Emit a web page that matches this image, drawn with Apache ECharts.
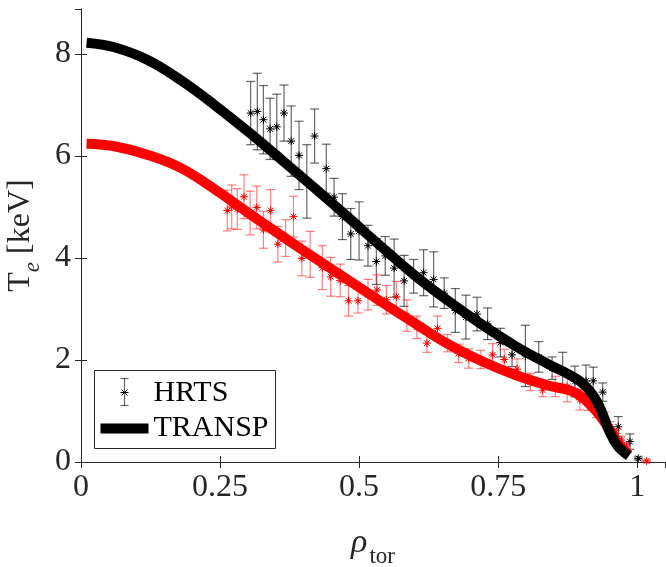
<!DOCTYPE html>
<html>
<head>
<meta charset="utf-8">
<script src="https://cdn.jsdelivr.net/npm/echarts@6/dist/echarts.min.js"></script>
<style>
  html, body { margin: 0; padding: 0; background: #fff; }
  #chart { width: 666px; height: 567px; }
</style>
</head>
<body>
<div id="chart"></div>
<script>
// Electron temperature profiles: HRTS measurements with error bars and TRANSP fits.

// TRANSP profiles (shared radial grid)
const rhoTransp = [0.01, 0.06, 0.12, 0.18, 0.24, 0.30, 0.36, 0.42, 0.48, 0.54, 0.60, 0.66, 0.72,
  0.78, 0.84, 0.88, 0.90, 0.92, 0.935, 0.95, 0.965, 0.985];
const teTranspBlack = [8.22, 8.13, 7.88, 7.48, 7.00, 6.48, 5.93, 5.37, 4.80, 4.22, 3.66, 3.16, 2.70,
  2.28, 1.92, 1.70, 1.56, 1.32, 1.02, 0.60, 0.31, 0.12];
const teTranspRed = [6.24, 6.19, 6.02, 5.76, 5.35, 4.89, 4.44, 4.00, 3.57, 3.14, 2.72, 2.31, 1.98,
  1.71, 1.50, 1.40, 1.28, 1.07, 0.88, 0.64, 0.38, 0.14];

// HRTS measurements, black set
const rhoHrtsBlack = [0.305, 0.317, 0.328, 0.340, 0.352, 0.365, 0.378, 0.392, 0.406, 0.420, 0.441,
  0.455, 0.470, 0.485, 0.500, 0.516, 0.531, 0.547, 0.563, 0.581, 0.598, 0.616, 0.634, 0.653,
  0.673, 0.692, 0.712, 0.731, 0.754, 0.775, 0.799, 0.823, 0.847, 0.866, 0.888, 0.908, 0.921,
  0.938, 0.966, 0.987, 1.002];
const teHrtsBlack = [6.84, 6.87, 6.71, 6.53, 6.57, 6.84, 6.29, 6.01, 5.50, 6.39, 5.75,
  5.19, 4.81, 4.47, 4.53, 4.24, 3.93, 4.04, 3.80, 3.55, 3.64, 3.71, 3.58, 3.31,
  2.97, 2.84, 2.90, 2.71, 2.34, 2.10, 2.08, 2.06, 1.84, 1.80, 1.58, 1.59, 1.59,
  1.37, 0.69, 0.40, 0.07];
const errHrtsBlack = [0.62, 0.75, 0.67, 0.60, 0.64, 0.55, 0.69, 0.67, 0.72, 0.53, 0.48,
  0.37, 0.45, 0.50, 0.57, 0.40, 0.45, 0.38, 0.57, 0.50, 0.33, 0.45, 0.54, 0.30,
  0.43, 0.43, 0.33, 0.31, 0.28, 0.23, 0.60, 0.30, 0.22, 0.35, 0.30, 0.31, 0.27,
  0.18, 0.20, 0.15, 0.03];

// HRTS measurements, red set
const rhoHrtsRed = [0.263, 0.271, 0.281, 0.293, 0.304, 0.316, 0.328, 0.341, 0.354, 0.368, 0.382,
  0.397, 0.412, 0.434, 0.449, 0.466, 0.481, 0.498, 0.516, 0.532, 0.549, 0.567, 0.586, 0.604,
  0.622, 0.641, 0.659, 0.679, 0.697, 0.719, 0.740, 0.761, 0.784, 0.808, 0.830, 0.853, 0.874,
  0.897, 0.912, 0.927, 0.942, 0.951, 0.963, 0.972, 0.981, 1.017];
const teHrtsRed = [4.93, 5.00, 4.96, 5.20, 4.88, 4.99, 4.55, 4.93, 4.27, 4.39, 4.81,
  3.99, 4.07, 3.81, 3.63, 3.56, 3.16, 3.16, 3.28, 3.37, 3.18, 3.24, 2.87, 2.64,
  2.33, 2.62, 2.33, 2.13, 2.03, 2.01, 2.10, 2.01, 1.82, 1.57, 1.41, 1.48, 1.48,
  1.22, 1.16, 0.99, 0.86, 0.69, 0.56, 0.43, 0.30, 0.02];
const errHrtsRed = [0.40, 0.43, 0.40, 0.43, 0.43, 0.42, 0.36, 0.41, 0.35, 0.36, 0.40,
  0.34, 0.45, 0.43, 0.38, 0.32, 0.30, 0.24, 0.30, 0.30, 0.28, 0.30, 0.31, 0.22,
  0.18, 0.24, 0.17, 0.18, 0.19, 0.18, 0.22, 0.20, 0.20, 0.17, 0.13, 0.20, 0.30,
  0.20, 0.15, 0.12, 0.12, 0.10, 0.10, 0.08, 0.08, 0.02];

// Axis ticks
const xTicks = [0, 0.25, 0.5, 0.75, 1];
const yTicks = [0, 2, 4, 6, 8];

const AXIS_COLOR = '#262626';
const FONT = 'Liberation Serif';

function zip3(a, b, c) { return a.map((v, i) => [v, b[i], c[i]]); }
function zip2(a, b) { return a.map((v, i) => [v, b[i]]); }

// Error bar with caps and an asterisk marker at the measured value
function makeErrorBarRenderer(barColor, starColor) {
  return function (params, api) {
    const x = api.value(0), y = api.value(1), e = api.value(2);
    const c = api.coord([x, y]);
    const t = api.coord([x, y + e]);
    const b = api.coord([x, y - e]);
    const cap = 4.5, r = 4;
    const lineStyle = { stroke: barColor, lineWidth: 1.2 };
    const starStyle = { stroke: starColor, lineWidth: 1 };
    const d = r * 0.72;
    return {
      type: 'group',
      children: [
        { type: 'line', shape: { x1: c[0], y1: t[1], x2: c[0], y2: b[1] }, style: lineStyle },
        { type: 'line', shape: { x1: c[0] - cap, y1: t[1], x2: c[0] + cap, y2: t[1] }, style: lineStyle },
        { type: 'line', shape: { x1: c[0] - cap, y1: b[1], x2: c[0] + cap, y2: b[1] }, style: lineStyle },
        { type: 'line', shape: { x1: c[0], y1: c[1] - r, x2: c[0], y2: c[1] + r }, style: starStyle },
        { type: 'line', shape: { x1: c[0] - r, y1: c[1], x2: c[0] + r, y2: c[1] }, style: starStyle },
        { type: 'line', shape: { x1: c[0] - d, y1: c[1] - d, x2: c[0] + d, y2: c[1] + d }, style: starStyle },
        { type: 'line', shape: { x1: c[0] - d, y1: c[1] + d, x2: c[0] + d, y2: c[1] - d }, style: starStyle },
        { type: 'circle', shape: { cx: c[0], cy: c[1], r: 1.3 }, style: { fill: starColor } }
      ]
    };
  };
}

const labelStyle = { color: AXIS_COLOR, fontFamily: FONT, fontSize: 32 };

const chart = echarts.init(document.getElementById('chart'), null, { renderer: 'canvas' });

chart.setOption({
  animation: false,
  backgroundColor: '#fff',
  grid: { left: 81, right: 1, top: 9, bottom: 105, containLabel: false, outerBoundsMode: 'none' },
  xAxis: [
    {
      type: 'value', min: 0, max: 1.05, interval: 0.25, position: 'bottom',
      axisLine: { show: true, lineStyle: { color: AXIS_COLOR, width: 1 } },
      axisTick: { show: true, inside: true, length: 6, lineStyle: { color: AXIS_COLOR } },
      splitLine: { show: false },
      axisLabel: Object.assign({
        margin: 10, showMaxLabel: false,
        formatter: v => (xTicks.includes(+v.toFixed(2)) ? String(+v.toFixed(2)) : '')
      }, labelStyle),
      name: '{r|ρ}{s|tor}',
      nameLocation: 'middle',
      nameGap: 58,
      nameTextStyle: {
        rich: {
          r: { fontFamily: FONT, fontStyle: 'italic', fontSize: 34, color: AXIS_COLOR, lineHeight: 40, verticalAlign: 'bottom' },
          s: { fontFamily: FONT, fontSize: 23, color: AXIS_COLOR, lineHeight: 40, verticalAlign: 'bottom', padding: [0, 0, -8, 2] }
        }
      }
    },
    {
      type: 'value', min: 0, max: 1.05, interval: 0.25, position: 'top',
      axisLine: { show: true, lineStyle: { color: AXIS_COLOR, width: 1 } },
      axisTick: { show: true, inside: true, length: 6, lineStyle: { color: AXIS_COLOR } },
      axisLabel: { show: false },
      splitLine: { show: false }
    }
  ],
  yAxis: [
    {
      type: 'value', min: 0, max: 8.88, interval: 2, position: 'left',
      axisLine: { show: true, lineStyle: { color: AXIS_COLOR, width: 1 } },
      axisTick: { show: true, inside: true, length: 6, lineStyle: { color: AXIS_COLOR } },
      splitLine: { show: false },
      axisLabel: Object.assign({
        margin: 10, showMaxLabel: false,
        formatter: v => (yTicks.includes(+v) ? String(v) : '')
      }, labelStyle),
      name: '{t|T}{e|e}{u| [keV]}',
      nameLocation: 'middle',
      nameRotate: 90,
      nameGap: 38,
      nameTextStyle: {
        rich: {
          t: { fontFamily: FONT, fontSize: 32, color: AXIS_COLOR, lineHeight: 40, verticalAlign: 'bottom' },
          e: { fontFamily: FONT, fontStyle: 'italic', fontSize: 23, color: AXIS_COLOR, lineHeight: 40, verticalAlign: 'bottom', padding: [0, 0, -8, 0] },
          u: { fontFamily: FONT, fontSize: 32, color: AXIS_COLOR, lineHeight: 40, verticalAlign: 'bottom' }
        }
      }
    },
    {
      type: 'value', min: 0, max: 8.88, interval: 2, position: 'right',
      axisLine: { show: true, lineStyle: { color: AXIS_COLOR, width: 1 } },
      axisTick: { show: true, inside: true, length: 6, lineStyle: { color: AXIS_COLOR } },
      axisLabel: { show: false },
      splitLine: { show: false }
    }
  ],
  series: [
    {
      name: 'HRTS', type: 'custom', xAxisIndex: 0, yAxisIndex: 0, z: 2,
      renderItem: makeErrorBarRenderer('rgba(0,0,0,0.6)', '#000'),
      encode: { x: 0, y: 1 },
      data: zip3(rhoHrtsBlack, teHrtsBlack, errHrtsBlack)
    },
    {
      name: 'HRTS red', type: 'custom', xAxisIndex: 0, yAxisIndex: 0, z: 2,
      renderItem: makeErrorBarRenderer('rgba(255,0,0,0.5)', '#ff0000'),
      encode: { x: 0, y: 1 },
      data: zip3(rhoHrtsRed, teHrtsRed, errHrtsRed)
    },
    {
      name: 'TRANSP red', type: 'line', z: 3, showSymbol: false, smooth: 0.4,
      lineStyle: { color: '#ff0000', width: 10, cap: 'butt', join: 'round' },
      data: zip2(rhoTransp, teTranspRed)
    },
    {
      name: 'TRANSP', type: 'line', z: 4, showSymbol: false, smooth: 0.4,
      lineStyle: { color: '#000000', width: 10, cap: 'butt', join: 'round' },
      data: zip2(rhoTransp, teTranspBlack)
    }
  ],
  graphic: [
    {
      type: 'group', left: 94, top: 370, z: 100,
      children: [
        { type: 'rect', shape: { x: 0, y: 0, width: 181, height: 78 }, style: { fill: '#fff', stroke: AXIS_COLOR, lineWidth: 1 } },
        // errorbar sample
        { type: 'line', shape: { x1: 30, y1: 8, x2: 30, y2: 35 }, style: { stroke: 'rgba(0,0,0,0.6)', lineWidth: 1.2 } },
        { type: 'line', shape: { x1: 26, y1: 8, x2: 34, y2: 8 }, style: { stroke: 'rgba(0,0,0,0.6)', lineWidth: 1.2 } },
        { type: 'line', shape: { x1: 26, y1: 35, x2: 34, y2: 35 }, style: { stroke: 'rgba(0,0,0,0.6)', lineWidth: 1.2 } },
        { type: 'line', shape: { x1: 26, y1: 22, x2: 34, y2: 22 }, style: { stroke: '#000', lineWidth: 1 } },
        { type: 'line', shape: { x1: 27.1, y1: 19.1, x2: 32.9, y2: 24.9 }, style: { stroke: '#000', lineWidth: 1 } },
        { type: 'line', shape: { x1: 27.1, y1: 24.9, x2: 32.9, y2: 19.1 }, style: { stroke: '#000', lineWidth: 1 } },
        { type: 'text', style: { x: 59, y: 23, text: 'HRTS', font: '30px "Liberation Serif"', fill: '#000', textVerticalAlign: 'middle', verticalAlign: 'middle' } },
        // line sample
        { type: 'line', shape: { x1: 6, y1: 58, x2: 54, y2: 58 }, style: { stroke: '#000', lineWidth: 10 } },
        { type: 'text', style: { x: 59, y: 58, text: 'TRANSP', font: '30px "Liberation Serif"', fill: '#000', textVerticalAlign: 'middle', verticalAlign: 'middle' } }
      ]
    }
  ]
});
</script>
</body>
</html>
